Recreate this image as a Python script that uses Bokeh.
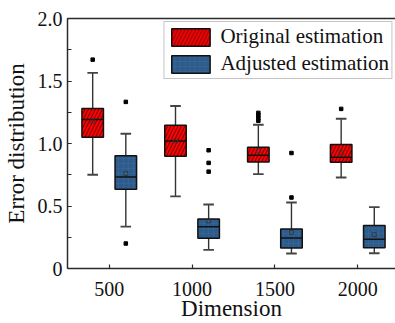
from bokeh.plotting import figure
from bokeh.models import (ColumnDataSource, Legend, LegendItem, FixedTicker,
                          LinearAxis, Range1d, SingleIntervalTicker)
from bokeh.transform import dodge
from bokeh.embed import file_html
from bokeh.resources import INLINE

# ---- data ----
dimensions = [500, 1000, 1500, 2000]

orig_lo = [0.750, 0.577, 0.755, 0.728]
orig_q1 = [1.050, 0.898, 0.853, 0.850]
orig_med = [1.192, 1.020, 0.906, 0.890]
orig_q3 = [1.280, 1.147, 0.970, 0.993]
orig_hi = [1.565, 1.300, 1.150, 1.198]
orig_mean = [1.180, 1.020, 0.943, 0.927]
orig_out_dim = [500, 1500, 1500, 1500, 1500, 2000]
orig_out_val = [1.671, 1.245, 1.225, 1.203, 1.182, 1.277]

adj_lo = [0.335, 0.149, 0.120, 0.122]
adj_q1 = [0.635, 0.242, 0.165, 0.167]
adj_med = [0.733, 0.335, 0.244, 0.234]
adj_q3 = [0.903, 0.396, 0.316, 0.345]
adj_hi = [1.078, 0.512, 0.528, 0.491]
adj_mean = [0.760, 0.380, 0.289, 0.271]
adj_out_dim = [500, 500, 1000, 1000, 1000, 1500, 1500]
adj_out_val = [1.333, 0.200, 0.946, 0.845, 0.775, 0.924, 0.568]

y_ticks = [0, 0.5, 1.0, 1.5, 2.0]
y_tick_labels = ["0", "0.5", "1.0", "1.5", "2.0"]

FONT = "Liberation Serif"
RED = "#FF0000"
BLUE = "#2D5B8C"
OFF = 100      # group offset in data units
BOX_W = 130
CAP_W = 64

p = figure(width=395, height=323, output_backend="svg", toolbar_location=None,
           x_range=Range1d(248, 2228), y_range=Range1d(0, 2.0),
           min_border_left=65, min_border_right=0, min_border_top=18,
           min_border_bottom=54)
p.outline_line_color = None
p.xgrid.grid_line_color = None
p.ygrid.grid_line_color = None
p.background_fill_color = "white"
p.border_fill_color = "white"


def draw_series(lo, q1, med, q3, hi, mean, out_dim, out_val, off, fill, hatch):
    src = ColumnDataSource(dict(dim=dimensions, lo=lo, q1=q1, med=med, q3=q3,
                                hi=hi, mean=mean))
    wcol = "#333333"
    p.segment(x0=dodge("dim", off, range=p.x_range), y0="lo",
              x1=dodge("dim", off, range=p.x_range), y1="q1",
              source=src, line_color=wcol, line_width=1.4)
    p.segment(x0=dodge("dim", off, range=p.x_range), y0="q3",
              x1=dodge("dim", off, range=p.x_range), y1="hi",
              source=src, line_color=wcol, line_width=1.4)
    p.segment(x0=dodge("dim", off - CAP_W / 2, range=p.x_range), y0="lo",
              x1=dodge("dim", off + CAP_W / 2, range=p.x_range), y1="lo",
              source=src, line_color="#444444", line_width=1.8)
    p.segment(x0=dodge("dim", off - CAP_W / 2, range=p.x_range), y0="hi",
              x1=dodge("dim", off + CAP_W / 2, range=p.x_range), y1="hi",
              source=src, line_color="#444444", line_width=1.8)
    if hatch == "/":
        box = p.vbar(x=dodge("dim", off, range=p.x_range), width=BOX_W,
                     bottom="q1", top="q3", source=src, fill_color=fill,
                     line_color="#111111", line_width=1.5,
                     hatch_pattern="/", hatch_color="#111111",
                     hatch_scale=7, hatch_weight=0.7)
    else:
        box = p.vbar(x=dodge("dim", off, range=p.x_range), width=BOX_W,
                     bottom="q1", top="q3", source=src, fill_color=fill,
                     line_color="#111111", line_width=1.5,
                     hatch_pattern="+", hatch_color="#4d7bab",
                     hatch_alpha=0.35, hatch_scale=5, hatch_weight=0.6)
    p.segment(x0=dodge("dim", off - BOX_W / 2, range=p.x_range), y0="med",
              x1=dodge("dim", off + BOX_W / 2, range=p.x_range), y1="med",
              source=src, line_color="#111111", line_width=1.5)
    p.scatter(x=dodge("dim", off, range=p.x_range), y="mean", source=src,
              marker="square", size=4, fill_color=None,
              line_color="#333333", line_width=0.8)
    osrc = ColumnDataSource(dict(dim=out_dim, val=out_val))
    p.scatter(x=dodge("dim", off, range=p.x_range), y="val", source=osrc,
              marker="square", size=3.5, fill_color="black",
              line_color="black")
    return box


r_orig = draw_series(orig_lo, orig_q1, orig_med, orig_q3, orig_hi, orig_mean,
                     orig_out_dim, orig_out_val, -OFF, RED, "/")
r_adj = draw_series(adj_lo, adj_q1, adj_med, adj_q3, adj_hi, adj_mean,
                    adj_out_dim, adj_out_val, OFF, BLUE, "+")

AX = "#2b2b2b"
# x axis
xa = p.xaxis[0]
xa.ticker = FixedTicker(ticks=dimensions)
xa.axis_label = "Dimension"
xa.axis_label_text_font = FONT
xa.axis_label_text_font_size = "23px"
xa.axis_label_text_font_style = "normal"
xa.axis_label_text_color = "#111111"
xa.axis_label_standoff = -3
xa.major_label_text_font = FONT
xa.major_label_text_font_size = "20px"
xa.major_label_text_color = "#111111"
xa.major_label_standoff = 13
xa.major_tick_in = 4
xa.major_tick_out = 0
xa.minor_tick_line_color = None
xa.axis_line_width = 1.5
xa.axis_line_color = AX
xa.major_tick_line_color = AX
xa.major_tick_line_width = 1.2

# y axis
ya = p.yaxis[0]
ya.ticker = SingleIntervalTicker(interval=0.5, num_minor_ticks=2)
ya.major_label_overrides = {t: s for t, s in zip(y_ticks, y_tick_labels)}
ya.axis_label = "Error distribution"
ya.axis_label_text_font = FONT
ya.axis_label_text_font_size = "23px"
ya.axis_label_text_font_style = "normal"
ya.axis_label_text_color = "#111111"
ya.axis_label_standoff = 6
ya.major_label_text_font = FONT
ya.major_label_text_font_size = "20px"
ya.major_label_text_color = "#111111"
ya.major_label_standoff = 5
ya.major_tick_in = 4
ya.major_tick_out = 0
ya.minor_tick_in = 4
ya.minor_tick_out = 0
ya.axis_line_width = 1.5
ya.axis_line_color = AX
ya.major_tick_line_color = AX
ya.minor_tick_line_color = AX

# top border line
top = LinearAxis(ticker=FixedTicker(ticks=[]), major_label_text_font_size="0px",
                 major_tick_in=0, major_tick_out=0, minor_tick_in=0,
                 minor_tick_out=0, axis_line_width=1.5, axis_line_color=AX,
                 major_label_standoff=0)
p.add_layout(top, "above")

legend = Legend(items=[LegendItem(label="Original estimation", renderers=[r_orig]),
                       LegendItem(label="Adjusted estimation", renderers=[r_adj])],
                location="top_right", margin=3, padding=2, spacing=2,
                glyph_width=48, glyph_height=22, label_height=22,
                label_standoff=6, label_text_font=FONT,
                label_text_font_size="21px", label_text_color="#111111",
                border_line_color="#8c8c8c", border_line_width=1,
                background_fill_color="white", background_fill_alpha=1)
p.add_layout(legend, "center")

open("out.html", "w").write(file_html(p, INLINE))
